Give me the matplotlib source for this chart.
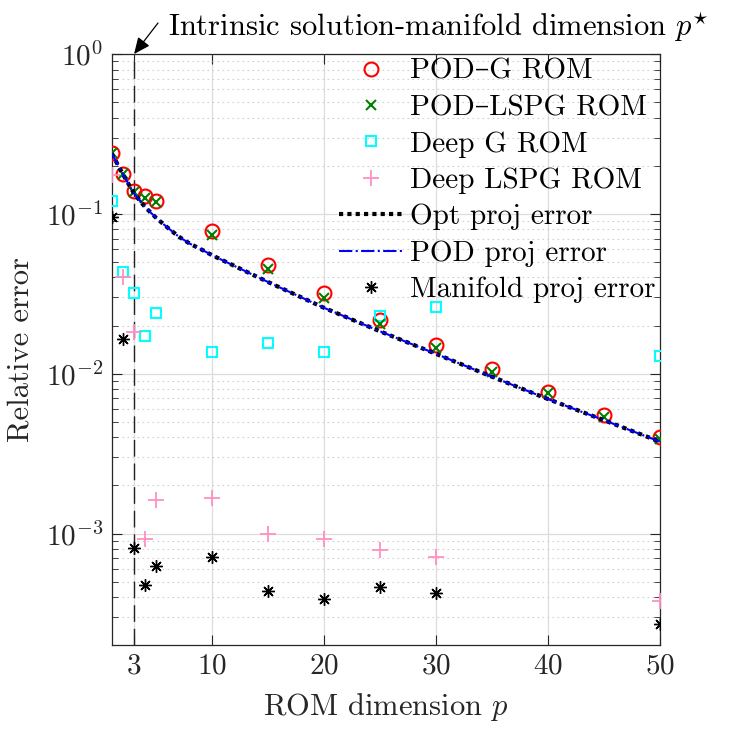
import matplotlib
matplotlib.use("Agg")
import matplotlib.pyplot as plt
from matplotlib.ticker import LogLocator, NullFormatter, FixedLocator

plt.rcParams['font.family'] = ['cmr10', 'DejaVu Serif']
plt.rcParams['mathtext.fontset'] = 'cm'
plt.rcParams['axes.formatter.use_mathtext'] = True

# ---- data ----
p_rom = [1, 2, 3, 4, 5, 10, 15, 20, 25, 30, 35, 40, 45, 50]
pod_g = [0.239, 0.177, 0.140, 0.129, 0.120, 0.0776, 0.0482, 0.0319, 0.0218,
         0.0152, 0.01075, 0.00767, 0.00553, 0.00403]
pod_lspg = [0.239, 0.177, 0.137, 0.126, 0.118, 0.0736, 0.0453, 0.0298, 0.0205,
            0.0145, 0.0102, 0.00753, 0.00537, 0.00389]

p_deep = [1, 2, 3, 4, 5, 10, 15, 20, 25, 30, 50]
deep_g = [0.120, 0.0436, 0.0320, 0.0173, 0.0240, 0.0136, 0.0156, 0.0136,
          0.0231, 0.0260, 0.0130]
deep_lspg = [0.176, 0.0402, 0.0182, 0.00092, 0.00162, 0.00166, 0.00099,
             0.00092, 0.00079, 0.000715, 0.000377]
manifold = [0.0955, 0.0166, 0.000807, 0.00048, 0.00063, 0.00071, 0.000436,
            0.000389, 0.00046, 0.000422, 0.00027]

p_line = [1, 2, 3, 4, 5, 6, 7, 8, 9, 10, 15, 20, 25, 30, 35, 40, 45, 50]
opt_proj = [0.239, 0.177, 0.134, 0.110, 0.094, 0.082, 0.072, 0.065, 0.060,
            0.055, 0.0374, 0.0258, 0.0184, 0.0133, 0.00957, 0.00694,
            0.00512, 0.00376]
pod_proj = [0.239, 0.177, 0.134, 0.110, 0.094, 0.082, 0.072, 0.065, 0.060,
            0.055, 0.0374, 0.0258, 0.0184, 0.0133, 0.00957, 0.00694,
            0.00512, 0.00376]

p_star = 3
x_ticks = [3, 10, 20, 30, 40, 50]

# ---- figure ----
fig = plt.figure(figsize=(7.3, 7.3), dpi=100)
ax = fig.add_axes([0.153, 0.116, 0.751, 0.810])

ax.set_yscale('log')
ax.set_xlim(1, 50)
ax.set_ylim(2e-4, 1)

ax.plot(p_rom, pod_g, linestyle='none', marker='o', markersize=10,
        markerfacecolor='none', markeredgecolor='#ff0000', markeredgewidth=1.5,
        label='POD–G ROM', zorder=3)
ax.plot(p_rom, pod_lspg, linestyle='none', marker='x', markersize=7,
        color='#008000', markeredgewidth=1.5, label='POD–LSPG ROM', zorder=4)
ax.plot(p_deep, deep_g, linestyle='none', marker='s', markersize=7,
        markerfacecolor='none', markeredgecolor='#00ffff', markeredgewidth=1.5,
        label='Deep G ROM', zorder=3)
ax.plot(p_deep, deep_lspg, linestyle='none', marker='+', markersize=11,
        color='#ff8fc4', markeredgewidth=1.3, label='Deep LSPG ROM', zorder=3)
ax.plot(p_line, opt_proj, linestyle=(0, (1, 1)), color='black', linewidth=3,
        label='Opt proj error', zorder=5)
ax.plot(p_line, pod_proj, linestyle='-.', color='#0000ff', linewidth=1.5,
        label='POD proj error', zorder=5)
ax.plot(p_deep, manifold, linestyle='none', marker=(8, 2, 0), markersize=9,
        color='black', markeredgewidth=1.0, label='Manifold proj error', zorder=3)

ax.axvline(p_star, color='#222222', linestyle=(0, (12, 5)), linewidth=1.0, zorder=2)

# ticks and grids
ax.xaxis.set_major_locator(FixedLocator(x_ticks))
ax.yaxis.set_major_locator(LogLocator(base=10, numticks=10))
ax.yaxis.set_minor_locator(LogLocator(base=10, subs=range(2, 10), numticks=10))
ax.yaxis.set_minor_formatter(NullFormatter())
ax.tick_params(which='both', direction='in', top=True, right=True,
               labelsize=21, color='#262626', labelcolor='#262626')
ax.tick_params(which='major', length=7, width=0.8, pad=6)
ax.tick_params(which='minor', length=4, width=0.6)
ax.grid(True, which='major', color='#dcdcdc', linewidth=0.9, linestyle='-')
ax.grid(True, which='minor', axis='y', color='#d0d0d0', linewidth=0.8,
        linestyle=(0, (1.5, 3)))
ax.set_axisbelow(True)
for s in ax.spines.values():
    s.set_color('#262626')
    s.set_linewidth(0.9)

ax.set_xlabel('ROM dimension $p$', fontsize=22, color='#262626', labelpad=8)
ax.set_ylabel('Relative error', fontsize=22, color='#262626', labelpad=8)

leg = ax.legend(loc='upper right', frameon=False, fontsize=21,
                handlelength=2.15, handletextpad=0.27, labelspacing=0.34,
                borderaxespad=0.0, borderpad=0.15)

fig.text(168, 703, 'Intrinsic solution-manifold dimension $p^{\\star}$',
         transform=None, fontsize=22, ha='left', va='center', color='black')
ax.annotate('', xy=(p_star, 1), xycoords='data',
            xytext=(158, 707), textcoords='figure pixels',
            arrowprops=dict(arrowstyle='-|>,head_length=0.9,head_width=0.4',
                            color='black', lw=0.9, mutation_scale=11,
                            shrinkA=0, shrinkB=0),
            annotation_clip=False)

fig.savefig('out.png', dpi=100)
